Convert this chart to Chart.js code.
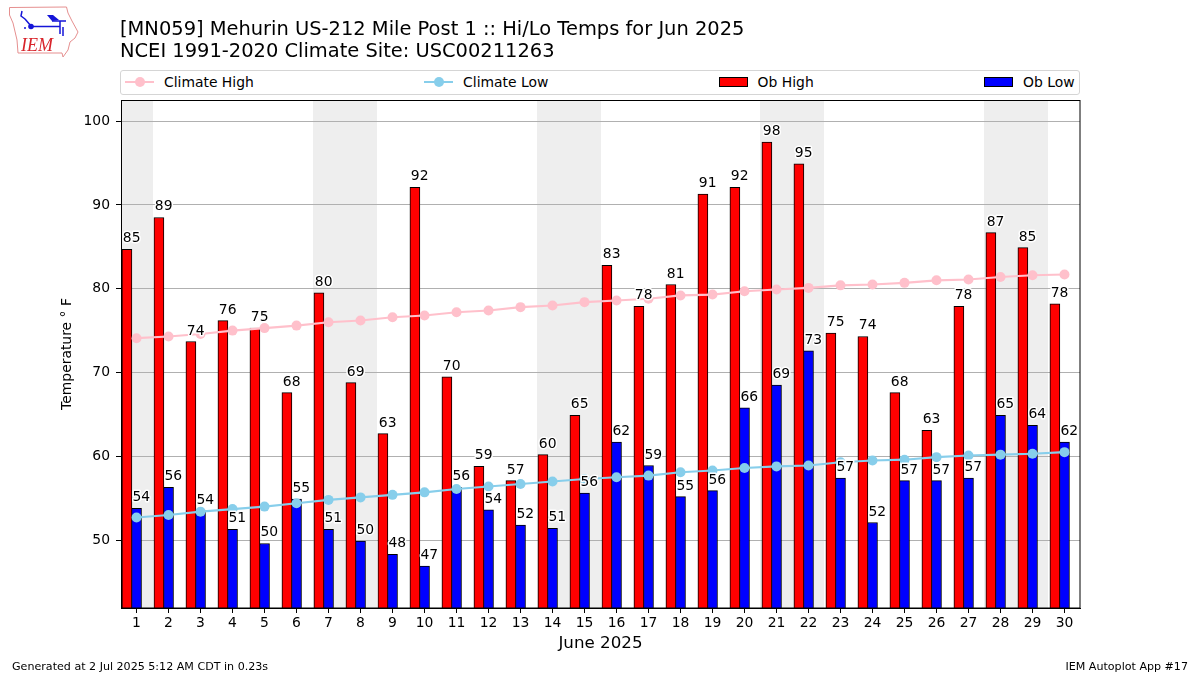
<!DOCTYPE html>
<html>
<head>
<meta charset="utf-8">
<title>Mehurin US-212 Mile Post 1 Hi/Lo Temps</title>
<script src="https://cdn.jsdelivr.net/npm/chart.js@4/dist/chart.umd.min.js"></script>
<style>
  html, body { margin: 0; padding: 0; background: #fff; }
  #page { position: relative; width: 1200px; height: 675px; overflow: hidden; font-family: "DejaVu Sans", sans-serif; color: #000; }
  #chart { position: absolute; left: 0; top: 0; }
  #logo { position: absolute; left: 0; top: 0; }
  #title { position: absolute; left: 120px; top: 18px; font-size: 19.46px; line-height: 22px; white-space: nowrap; }
  #legend { position: absolute; left: 120px; top: 70px; width: 960px; height: 25px; box-sizing: border-box; border: 1px solid #d5d5d5; border-radius: 3px; display: flex; justify-content: space-between; align-items: center; padding: 0 4.5px 2px 4px; font-size: 13.9px; background: #fff; }
  .item { display: flex; align-items: center; }
  .line { position: relative; display: inline-block; width: 29px; height: 2px; margin-right: 10px; }
  .line i { position: absolute; left: 10px; top: -4px; width: 10px; height: 10px; border-radius: 50%; background: inherit; }
  .box { display: inline-block; width: 27px; height: 8px; border: 1px solid #000; margin-right: 10px; }
  .foot { position: absolute; top: 660px; font-size: 11.1px; line-height: 14px; white-space: nowrap; }
</style>
</head>
<body>
<div id="page">
  <canvas id="chart" width="1200" height="675"></canvas>
  <svg id="logo" width="90" height="65" viewBox="0 0 90 65">
    <path d="M9.5 7.5 L66.5 7 L68 13 L72 21 L78 32 L75 38 L70 42 L68 50 L63 57 L62 53 L18 53 L17 40 L13 23 L9.5 15 Z" fill="#fff" stroke="#e58f8f" stroke-width="1"/>
    <path d="M31 26.5 L60 26.5 M31 26 L25 19 M25 19 L21 16 L22 11 M60 21 L60 34 M52 21 L66 21 M63 27 L63 36" stroke="#1515d8" stroke-width="1.5" fill="none"/>
    <path d="M47 15 L53 15 L59 20 L52 21 Z" fill="#1515d8"/>
    <circle cx="31" cy="26.5" r="2.8" fill="#1515d8"/>
    <circle cx="25" cy="28" r="1" fill="#1515d8"/>
    <text x="21" y="51" font-family="Liberation Serif" font-style="italic" font-size="18" fill="#d8232a">IEM</text>
  </svg>
  <div id="title">[MN059] Mehurin US-212 Mile Post 1 :: Hi/Lo Temps for Jun 2025<br>NCEI 1991-2020 Climate Site: USC00211263</div>
  <div id="legend"></div>
  <div class="foot" style="left:12px">Generated at 2 Jul 2025 5:12 AM CDT in 0.23s</div>
  <div class="foot" style="right:12px">IEM Autoplot App #17</div>
</div>
<script>
const days = [1,2,3,4,5,6,7,8,9,10,11,12,13,14,15,16,17,18,19,20,21,22,23,24,25,26,27,28,29,30];
const obHigh = [84.7,88.5,73.7,76.2,75.3,67.6,79.5,68.8,62.7,92.1,69.5,58.8,57.1,60.2,64.9,82.8,77.9,80.5,91.3,92.1,97.5,94.9,74.7,74.3,67.6,63.1,77.9,86.7,84.9,78.2];
const obLow = [53.8,56.3,53.5,51.3,49.6,54.9,51.3,49.9,48.3,46.9,56.3,53.6,51.8,51.4,55.6,61.7,58.9,55.2,55.9,65.8,68.5,72.6,57.4,52.1,57.1,57.1,57.4,64.9,63.7,61.7];
const climateHigh = [74.1,74.3,74.6,75.0,75.3,75.6,76.0,76.2,76.6,76.8,77.2,77.4,77.8,78.0,78.4,78.6,78.8,79.2,79.3,79.7,79.9,80.1,80.4,80.5,80.7,81.0,81.1,81.4,81.6,81.7];
const climateLow = [52.7,53.0,53.4,53.7,54.0,54.4,54.8,55.1,55.4,55.7,56.1,56.4,56.7,57.0,57.3,57.5,57.7,58.1,58.3,58.6,58.8,58.9,59.3,59.5,59.6,59.9,60.1,60.2,60.3,60.5];
const weekendDays = [1,7,8,14,15,21,22,28,29];
const yTicks = [50,60,70,80,90,100];

const FONT = "'DejaVu Sans'";
const BAR_W = 0.3;   // in days, the high bar sits one bar left of the low bar

Chart.defaults.font.family = FONT;
Chart.defaults.color = "#000";
Chart.defaults.animation = false;

function toPoints(values, shift) {
  return values.map((v, i) => ({ x: days[i] + shift, y: v }));
}

const bandsPlugin = {
  id: "bands",
  beforeDraw(chart) {
    const { ctx, chartArea, scales } = chart;
    ctx.save();
    ctx.beginPath();
    ctx.rect(chartArea.left, chartArea.top, chartArea.right - chartArea.left, chartArea.bottom - chartArea.top);
    ctx.clip();
    ctx.fillStyle = "#eeeeee";
    weekendDays.forEach((d) => {
      const a = Math.round(scales.x.getPixelForValue(d - 0.5));
      const b = Math.round(scales.x.getPixelForValue(d + 0.5));
      ctx.fillRect(a, chartArea.top, b - a, chartArea.bottom - chartArea.top);
    });
    ctx.restore();
  },
};

const valueLabelsPlugin = {
  id: "valueLabels",
  afterDatasetsDraw(chart) {
    const { ctx } = chart;
    ctx.save();
    ctx.font = "13.9px " + FONT;
    ctx.textAlign = "left";
    ctx.textBaseline = "alphabetic";
    ctx.lineJoin = "round";
    chart.data.datasets.forEach((ds, di) => {
      if (ds.type !== "bar") return;
      chart.getDatasetMeta(di).data.forEach((bar, i) => {
        const txt = String(Math.round(ds.data[i].y));
        const x = bar.x - bar.width / 2 + 0.9;
        const y = bar.y - 7;
        ctx.strokeStyle = "#fff";
        ctx.lineWidth = 3;
        ctx.strokeText(txt, x, y);
        ctx.fillStyle = "#000";
        ctx.fillText(txt, x, y);
      });
    });
    ctx.restore();
  },
};

const framePlugin = {
  id: "frame",
  afterDraw(chart) {
    const { ctx, chartArea: a } = chart;
    ctx.save();
    ctx.strokeStyle = "#000";
    ctx.lineWidth = 1;
    ctx.strokeRect(a.left + 0.5, a.top + 0.5, a.right - a.left - 0.5, a.bottom - a.top - 0.5);
    ctx.restore();
  },
};

const chart = new Chart(document.getElementById("chart"), {
  data: {
    datasets: [
      { type: "line", label: "Climate High", data: toPoints(climateHigh, 0), borderColor: "#ffc0cb", backgroundColor: "#ffc0cb", borderWidth: 2.1, pointRadius: 5, pointBorderWidth: 0, order: 0 },
      { type: "line", label: "Climate Low", data: toPoints(climateLow, 0), borderColor: "#87ceeb", backgroundColor: "#87ceeb", borderWidth: 2.1, pointRadius: 5, pointBorderWidth: 0, order: 0 },
      { type: "bar", label: "Ob High", data: toPoints(obHigh, -BAR_W), backgroundColor: "#ff0000", borderColor: "#000", borderWidth: 1, barThickness: 10, grouped: false, order: 1 },
      { type: "bar", label: "Ob Low", data: toPoints(obLow, 0), backgroundColor: "#0000ff", borderColor: "#000", borderWidth: 1, barThickness: 10, grouped: false, order: 1 },
    ],
  },
  options: {
    responsive: false,
    layout: { padding: { top: 100, right: 120, left: 0, bottom: 0 } },
    plugins: { legend: { display: false }, tooltip: { enabled: false } },
    scales: {
      x: {
        type: "linear",
        offset: false,
        min: 0.515,
        max: 30.485,
        afterFit: (s) => { s.height = 67; },
        afterBuildTicks: (s) => { s.ticks = days.map((d) => ({ value: d })); },
        border: { color: "#000", width: 1 },
        grid: { drawOnChartArea: false, color: "#000", tickLength: 5, offset: false },
        ticks: { font: { size: 13.9 }, padding: 2, autoSkip: false, maxRotation: 0, callback: (v) => String(v) },
        title: { display: true, text: "June 2025", font: { size: 16.7 }, padding: { top: 0, bottom: 21 } },
      },
      y: {
        min: 41.9,
        max: 102.52,
        afterFit: (s) => { s.width = 121; },
        afterBuildTicks: (s) => { s.ticks = yTicks.map((v) => ({ value: v })); },
        border: { color: "#000", width: 1 },
        grid: { color: "#b0b0b0", tickColor: "#000", tickLength: 5, lineWidth: 1 },
        ticks: { font: { size: 13.9 }, padding: 6, callback: (v) => String(v) },
        title: { display: true, text: "Temperature ° F", font: { size: 13.9 }, padding: { top: 59, bottom: 0 } },
      },
    },
  },
  plugins: [bandsPlugin, valueLabelsPlugin, framePlugin],
});

// matplotlib style legend strip, four evenly spread entries
const legend = document.getElementById("legend");
chart.data.datasets.forEach((ds) => {
  const item = document.createElement("span");
  item.className = "item";
  const swatch = ds.type === "line"
    ? `<span class="line" style="background:${ds.borderColor}"><i></i></span>`
    : `<span class="box" style="background:${ds.backgroundColor}"></span>`;
  item.innerHTML = swatch + ds.label;
  legend.appendChild(item);
});
</script>
</body>
</html>
